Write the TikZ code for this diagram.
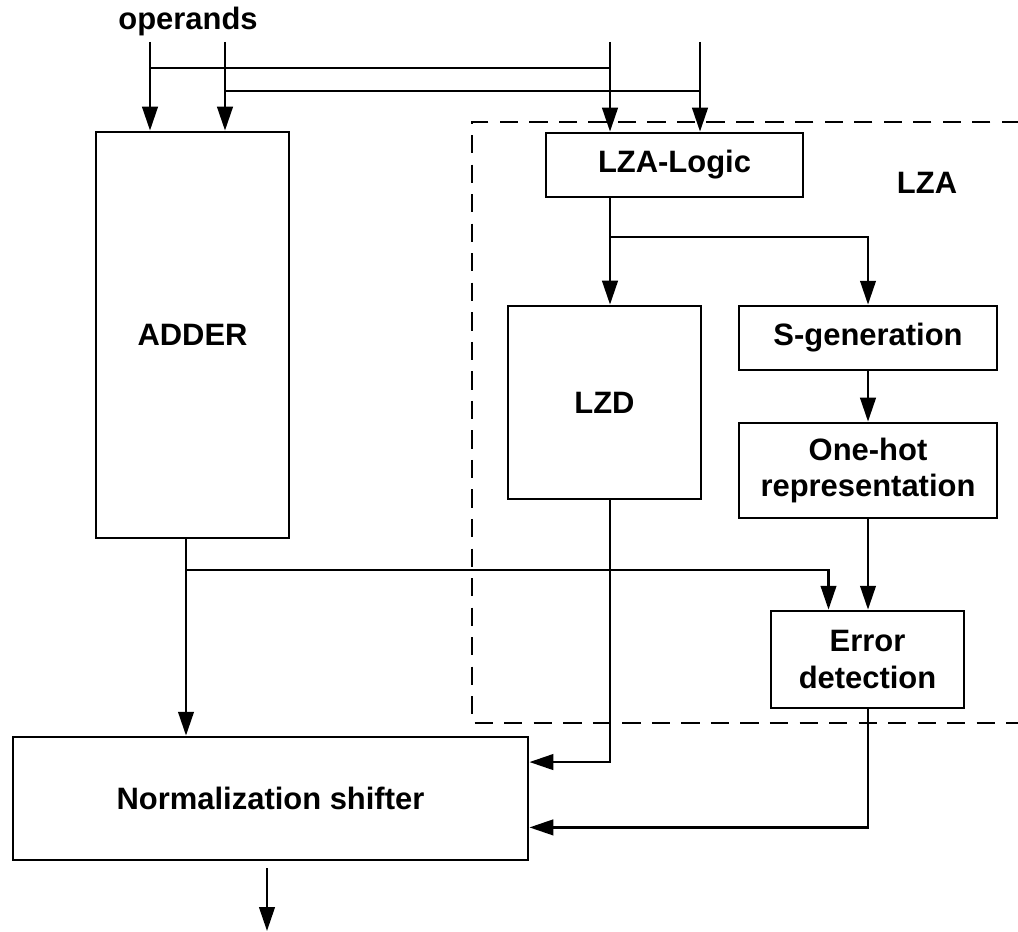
\documentclass[tikz,border=0pt]{standalone}
\usepackage{fontspec}
\setmainfont{Liberation Sans}
\usetikzlibrary{arrows.meta,calc,positioning}

\begin{document}
\begin{tikzpicture}[x=0.025cm,y=-0.025cm,line width=1.9pt,
>={Triangle[length=17pt,width=11pt]},
blk/.style={draw,rectangle,inner sep=0pt,align=center,font=\bfseries\fontsize{22}{26}\selectfont},
lbl/.style={font=\bfseries\fontsize{22}{26}\selectfont}]
\useasboundingbox (0,0) rectangle (1018,932);
% LZA frame
\draw[line width=1.7pt,dash pattern=on 13pt off 8pt] (1020,122)--(472,122)--(472,723)--(1020,723);
\node[lbl] (OPS) at (188,22) {operands};
\node[lbl] (LZA) at (927,183) {LZA};
\node[blk,minimum width=4.825cm,minimum height=10.15cm] (ADD) at (192.5,335) {ADDER};
\node[blk,minimum width=6.425cm,minimum height=1.6cm] (LOG) at (674.5,165) {LZA-Logic};
\node[blk,minimum width=4.825cm,minimum height=4.825cm] (LZD) at (604.5,402.5) {LZD};
\node[blk,minimum width=6.45cm,minimum height=1.6cm] (SG) at (868,338) {S-generation};
\node[blk,minimum width=6.45cm,minimum height=2.375cm] (OH) at (868,470.5) {One-hot\\representation};
\node[blk,minimum width=4.825cm,minimum height=2.425cm] (ED) at (867.5,659.5) {Error\\detection};
\node[blk,minimum width=12.875cm,minimum height=3.075cm] (NS) at (270.5,798.5) {Normalization shifter};
\coordinate (I1) at (150,42);
\coordinate (I2) at (225,42);
\coordinate (I3) at (610,42);
\coordinate (I4) at (700,42);
\coordinate (B1) at (150,68);
\coordinate (B2) at (225,91);
\coordinate (BR) at (610,237);
\coordinate (AO) at (186,538);
\coordinate (AT) at (186,570);
\coordinate (O1) at (267,868);
\coordinate (O2) at (267,931);
\draw[->] (I1)--(I1 |- ADD.north);
\draw[->] (I2)--(I2 |- ADD.north);
\draw[->] (I3)--(I3 |- LOG.north);
\draw[->] (I4)--(I4 |- LOG.north);
\draw (B1)--(B1 -| I3);
\draw (B2)--(B2 -| I4);
\draw[->] (I3 |- LOG.south)--(I3 |- LZD.north);
\draw[->] (BR)-|(SG.north);
\draw[->] (SG.south)--(OH.north);
\draw[->] (OH.south)--(OH.south |- ED.north);
\draw[->] (AO)--(AO |- NS.north);
\draw[->] (AT)-|($(ED.north)+(-39,0)$);
\draw[->] (I3 |- LZD.south)|-($(NS.north east)!0.21!(NS.south east)$);
\draw[->] (OH.south |- ED.south)|-($(NS.north east)!0.73!(NS.south east)$);
\draw[->] (O1)--(O2);
\end{tikzpicture}
\end{document}
